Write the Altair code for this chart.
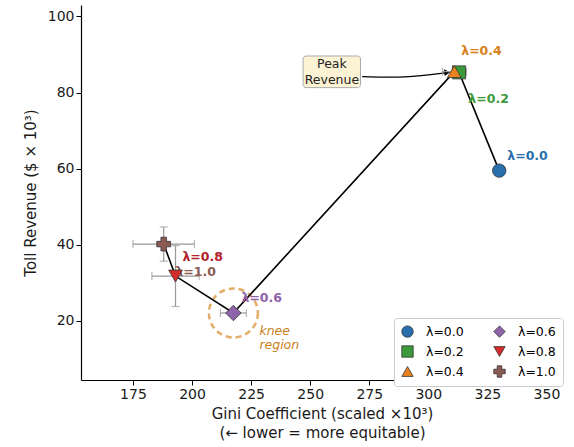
import altair as alt
import pandas as pd

# ---- data ----
lam_labels = ["λ=0.0", "λ=0.2", "λ=0.4", "λ=0.6", "λ=0.8", "λ=1.0"]
gini = [330, 313, 311, 217.5, 193, 188]
revenue = [59.5, 85.3, 85.5, 22.1, 31.8, 40.2]
gini_err = [0, 3, 5, 5.5, 10, 13]
rev_err = [0, 0, 0, 0, 8, 4.5]
colors = ["#2a6fad", "#3b9b3b", "#e8821e", "#8e63a8", "#d62b2b", "#8b5a52"]
label_colors = ["#2a6fad", "#3b9b3b", "#d9801c", "#8e63a8", "#b2222a", "#8b5a52"]
shapes = ["circle", "square", "triangle-up", "diamond", "triangle-down", "cross"]
marker_sizes = [180, 170, 190, 240, 190, 190]
label_x = [342, 325.5, 322.5, 229.5, 204.5, 201.5]
label_y = [63.4, 78.2, 90.8, 26.1, 36.8, 32.9]
x_ticks = [175, 200, 225, 250, 275, 300, 325, 350]
y_ticks = [20, 40, 60, 80, 100]

df = pd.DataFrame({
    "lam": lam_labels, "gini": gini, "rev": revenue, "order": list(range(6)),
    "xlo": [g - e for g, e in zip(gini, gini_err)],
    "xhi": [g + e for g, e in zip(gini, gini_err)],
    "ylo": [r - e for r, e in zip(revenue, rev_err)],
    "yhi": [r + e for r, e in zip(revenue, rev_err)],
    "lx": label_x, "ly": label_y, "lc": label_colors, "ms": marker_sizes,
})

xs = alt.Scale(domain=[153, 357], nice=False, zero=False)
ys = alt.Scale(domain=[4.5, 103], nice=False, zero=False)
XT = ["Gini Coefficient (scaled ×10³)", "(← lower = more equitable)"]
YT = "Toll Revenue ($ × 10³)"
xax = alt.Axis(values=x_ticks, title=XT)
yax = alt.Axis(values=y_ticks, title=YT)


def X(f):
    return alt.X(f, type="quantitative", scale=xs, axis=xax, title=XT)


def Y(f):
    return alt.Y(f, type="quantitative", scale=ys, axis=yax, title=YT)


base = alt.Chart(df)

xerr = base.transform_filter("datum.xhi > datum.xlo").mark_errorbar(
    ticks=alt.TickConfig(size=8), color="#999999", thickness=1.2
).encode(x=X("xlo"), x2="xhi:Q", y=Y("rev"))
yerr = base.transform_filter("datum.yhi > datum.ylo").mark_errorbar(
    ticks=alt.TickConfig(size=8), color="#999999", thickness=1.2
).encode(y=Y("ylo"), y2="yhi:Q", x=X("gini"))

line = base.mark_line(color="black", strokeWidth=1.6).encode(
    x=X("gini"), y=Y("rev"), order="order:O",
)

labels = base.mark_text(fontWeight="bold", fontSize=12.5, font="DejaVu Sans").encode(
    x=X("lx"), y=Y("ly"),
    text="lam:N", color=alt.Color("lc:N", scale=None),
)

points = base.mark_point(filled=True, stroke="#333333", strokeWidth=0.8, opacity=1).encode(
    x=X("gini"), y=Y("rev"),
    size=alt.Size("ms:Q", scale=None, legend=None),
    color=alt.Color("lam:N", scale=alt.Scale(domain=lam_labels, range=colors),
                    legend=alt.Legend(title=None, orient="none", legendX=313, legendY=313,
                                      columns=2, columnPadding=28, rowPadding=5,
                                      symbolSize=130, symbolStrokeColor="#333333",
                                      symbolStrokeWidth=0.8, labelFontSize=12.5,
                                      labelFontWeight="normal",
                                      labelFont="DejaVu Sans", padding=7,
                                      strokeColor="#cccccc", fillColor="white",
                                      cornerRadius=3, labelOffset=12)),
    shape=alt.Shape("lam:N", scale=alt.Scale(domain=lam_labels, range=shapes)),
)

# knee annotation
knee_df = pd.DataFrame({"x": [217.5], "y": [22.1]})
knee = alt.Chart(knee_df).mark_point(shape="circle", size=2400, filled=False, color="#d98a2a",
                                      strokeWidth=2.5, strokeDash=[6, 4]).encode(
    x=X("x"), y=Y("y"))
knee_txt_df = pd.DataFrame({"x": [228.5], "y": [17.4], "t": ["knee\nregion"]})
knee_txt = alt.Chart(knee_txt_df).mark_text(align="left", fontStyle="italic", fontSize=12.5,
                                            color="#c98220", lineBreak="\n", lineHeight=14,
                                            baseline="middle").encode(
    x=X("x"), y=Y("y"), text="t:N")

# peak revenue annotation
box_df = pd.DataFrame({"x": [247.0], "x2": [271.3], "y": [81.3], "y2": [89.6]})
box = alt.Chart(box_df).mark_rect(fill="#fcf3d4", stroke="#aaaaaa", strokeWidth=1,
                                  cornerRadius=3).encode(
    x=X("x"), x2="x2:Q", y=Y("y"), y2="y2:Q")
box_txt_df = pd.DataFrame({"x": [259.2], "y": [87.5], "t": ["Peak\nRevenue"]})
box_txt = alt.Chart(box_txt_df).mark_text(fontSize=12.5, lineBreak="\n", lineHeight=16,
                                          baseline="middle", color="#222222").encode(
    x=X("x"), y=Y("y"), text="t:N")
arrow_df = pd.DataFrame({"x": [272.0, 290.0, 308.5], "y": [84.2, 83.8, 85.3], "o": [0, 1, 2]})
arrow = alt.Chart(arrow_df).mark_line(color="black", strokeWidth=1.3, interpolate="basis").encode(
    x=X("x"), y=Y("y"), order="o:O")
head_df = pd.DataFrame({"x": [308.0], "y": [85.3]})
head = alt.Chart(head_df).mark_point(shape="triangle-right", filled=True, size=45, color="black",
                                     opacity=1, angle=355).encode(
    x=X("x"), y=Y("y"))

chart = alt.layer(box, arrow, head, box_txt, knee, knee_txt, xerr, yerr, line, labels, points).properties(
    width=482, height=375,
    autosize=alt.AutoSizeParams(type="none"),
    padding={"left": 81, "top": 5, "right": 11, "bottom": 67},
).configure_view(stroke=None).configure_axis(
    grid=False, domainColor="black", tickColor="black", labelFontSize=14, titleFontSize=15,
    labelFont="DejaVu Sans", titleFont="DejaVu Sans", titleFontWeight="normal",
    labelColor="#1a1a1a", titleColor="#1a1a1a", tickSize=5, domainWidth=1.2,
).configure_axisY(titlePadding=9).configure_axisX(titlePadding=5, titleLineHeight=19).configure_text(
    font="DejaVu Sans")

chart.save("out.html", embed_options={"renderer": "svg", "actions": False})
